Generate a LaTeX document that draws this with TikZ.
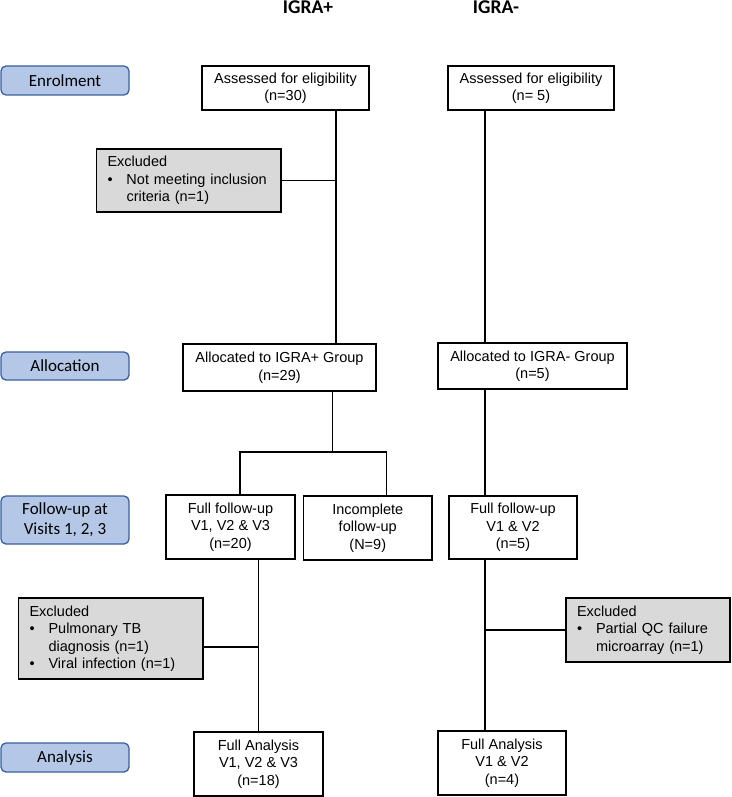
\documentclass[tikz,border=0pt]{standalone}
\usepackage{fontspec}
\setmainfont{Liberation Sans}
\newfontfamily\calibri{Carlito}
\usepackage{tikz}

\definecolor{stagefill}{HTML}{B4C7E7}
\definecolor{stageline}{HTML}{3A5F9C}
\definecolor{exclfill}{HTML}{D9D9D9}

\newcommand{\bitem}[1]{\makebox[19pt][l]{\textbullet}#1}
\newcommand{\bcont}[1]{\hspace*{19pt}#1}

\begin{document}
\begin{tikzpicture}[x=1pt,y=-1pt]
        \useasboundingbox (0,0) rectangle (731,797);
        \tikzstyle{every node}=[font=\fontsize{14.5}{17.5}\selectfont,align=center]
        \tikzstyle{box}=[draw,line width=1.2pt,inner sep=0pt]
        \tikzstyle{stage}=[draw=stageline,fill=stagefill,rounded corners=5pt,line width=1.3pt,
            minimum width=128pt,inner sep=0pt,font=\calibri\fontsize{17}{20}\selectfont]
        \tikzstyle{excl}=[box,fill=exclfill,align=left,inner xsep=11pt]
        \tikzstyle{title}=[font=\calibri\bfseries\fontsize{19.5}{22}\selectfont]

            % column titles
            \node[title] (titleP) at (308,7) {IGRA+};
            \node[title] (titleM) at (496,7) {IGRA-};

            % stages
            \node[stage,minimum height=29pt] (enrol) at (65,80.5) {Enrolment};
            \node[stage,minimum height=28pt] (alloc) at (65,366) {Allocation};
            \node[stage,minimum height=48pt] (follow) at (65,520) {Follow-up at\\Visits 1, 2, 3};
            \node[stage,minimum height=29pt] (anal) at (65,757.5) {Analysis};

            % IGRA+
            \node[box,minimum width=167pt,minimum height=44pt] (assP) at (285.5,88) {Assessed for eligibility\\(n=30)};
            \node[excl,text width=162.5pt,minimum height=63pt] (excA) at (188.75,180.5)
                {Excluded\\\bitem{Not meeting inclusion}\\\bcont{criteria (n=1)}};
            \node[box,minimum width=193pt,minimum height=47pt] (allocP) at (279.5,367.5) {Allocated to IGRA+ Group\\(n=29)};
            \node[box,minimum width=129pt,minimum height=64pt] (fullP) at (230.5,527) {Full follow-up\\V1, V2 \& V3\\(n=20)};
            \node[box,minimum width=128.5pt,minimum height=64pt] (incomp) at (367.75,528) {Incomplete\\follow-up\\(N=9)};
            \node[excl,text width=162.5pt,minimum height=81pt] (excB) at (110.8,638.5)
                {Excluded\\\bitem{Pulmonary TB}\\\bcont{diagnosis (n=1)}\\\bitem{Viral infection (n=1)}};
            \node[box,minimum width=129pt,minimum height=64pt] (anaP) at (258.5,764) {Full Analysis\\V1, V2 \& V3\\(n=18)};

            % IGRA-
            \node[box,minimum width=166pt,minimum height=44pt] (assM) at (531,88) {Assessed for eligibility\\(n= 5)};
            \node[box,minimum width=189pt,minimum height=46pt] (allocM) at (532.5,366) {Allocated to IGRA- Group\\(n=5)};
            \node[box,minimum width=128pt,minimum height=63pt] (fullM) at (513,527.5) {Full follow-up\\V1 \& V2\\(n=5)};
            \node[excl,text width=142pt,minimum height=64pt] (excC) at (648,630)
                {Excluded\\\bitem{Partial QC failure}\\\bcont{microarray (n=1)}};
            \node[box,minimum width=128pt,minimum height=64pt] (anaM) at (502,763) {Full Analysis\\V1 \& V2\\(n=4)};

            \coordinate (colP) at (336,0);
            \coordinate (colM) at (485,0);
            \coordinate (split) at (332.4,452);
            \coordinate (brL) at (240,452);
            \coordinate (brR) at (386.5,452);
            \coordinate (joinB) at (259,647);

            \draw[line width=1.2pt] (assP.south -| colP) -- (allocP.north -| colP)
            (excA.east) -- (excA.east -| colP)
            (allocP.south -| split) -- (split)
            (fullP.north -| brL) -- (brL) -- (brR)
            (fullP.south -| anaP.north) -- (anaP.north)
            (joinB -| excB.east) -- (joinB)
            (assM.south -| colM) -- (allocM.north -| colM)
            (allocM.south -| colM) -- (fullM.north -| colM)
            (fullM.south -| colM) -- (anaM.north -| colM)
            (excC.west) -- (excC.west -| colM)
            ;
            \draw[line width=0.8pt] (brR) -- (brR |- incomp.north);
        \end{tikzpicture}
\end{document}
